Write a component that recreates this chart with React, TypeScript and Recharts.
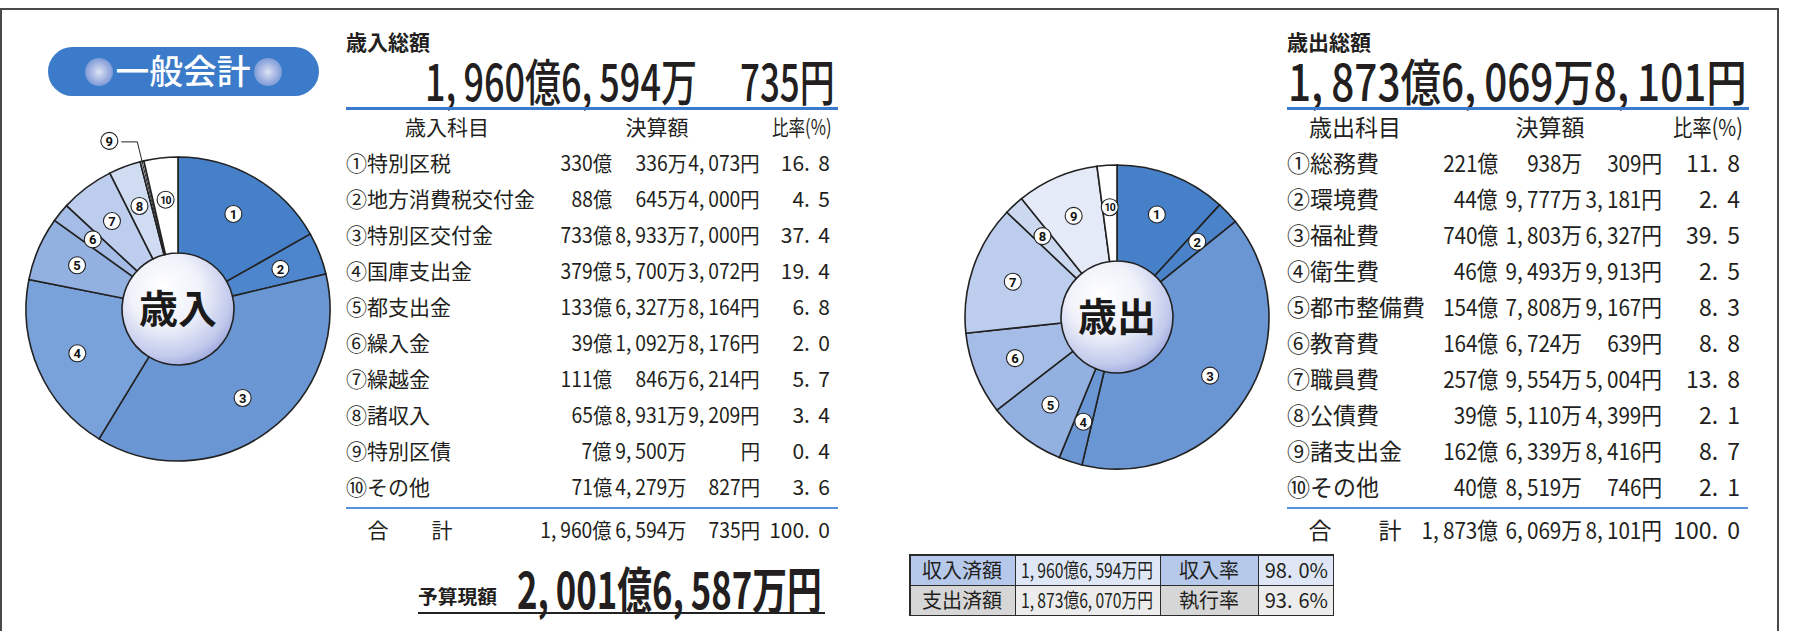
import { useLayoutEffect, useRef, useState } from "react";
import type { ReactNode } from "react";
import { Cell, Pie, PieChart } from "recharts";

const FONT = '"Noto Sans CJK JP", "Noto Sans", sans-serif';
const INK = "#231f20";

const circled = ["①", "②", "③", "④", "⑤", "⑥", "⑦", "⑧", "⑨", "⑩"];

// 歳入
const revenueItems = [
  "特別区税",
  "地方消費税交付金",
  "特別区交付金",
  "国庫支出金",
  "都支出金",
  "繰入金",
  "繰越金",
  "諸収入",
  "特別区債",
  "その他"
];
const revenueAmounts = [
  ["330億", "336万", "4,073円"],
  ["88億", "645万", "4,000円"],
  ["733億", "8,933万", "7,000円"],
  ["379億", "5,700万", "3,072円"],
  ["133億", "6,327万", "8,164円"],
  ["39億", "1,092万", "8,176円"],
  ["111億", "846万", "6,214円"],
  ["65億", "8,931万", "9,209円"],
  ["7億", "9,500万", "円"],
  ["71億", "4,279万", "827円"]
];
const revenueShare = [16.8, 4.5, 37.4, 19.4, 6.8, 2.0, 5.7, 3.4, 0.4, 3.6];
const revenueTotal = ["1,960億", "6,594万", "735円"];

// 歳出
const expenseItems = [
  "総務費",
  "環境費",
  "福祉費",
  "衛生費",
  "都市整備費",
  "教育費",
  "職員費",
  "公債費",
  "諸支出金",
  "その他"
];
const expenseAmounts = [
  ["221億", "938万", "309円"],
  ["44億", "9,777万", "3,181円"],
  ["740億", "1,803万", "6,327円"],
  ["46億", "9,493万", "9,913円"],
  ["154億", "7,808万", "9,167円"],
  ["164億", "6,724万", "639円"],
  ["257億", "9,554万", "5,004円"],
  ["39億", "5,110万", "4,399円"],
  ["162億", "6,339万", "8,416円"],
  ["40億", "8,519万", "746円"]
];
const expenseShare = [11.8, 2.4, 39.5, 2.5, 8.3, 8.8, 13.8, 2.1, 8.7, 2.1];
const expenseTotal = ["1,873億", "6,069万", "8,101円"];

// 収入・支出の状況
const statusLabels = ["収入済額", "支出済額"];
const statusAmounts = ["1,960億6,594万円", "1,873億6,070万円"];
const rateLabels = ["収入率", "執行率"];
const rateValues = [98.0, 93.6];

const revenueColors = [
  "#4580c8", "#4d86cc", "#6a97d4", "#7aa2da", "#93b1e0",
  "#a5bde6", "#bccdee", "#d0dcf2", "#e8eef9", "#ffffff"
];
const expenseColors = [
  "#4580c8", "#4a83ca", "#6a97d4", "#6a97d4", "#93b1e0",
  "#a5bde6", "#bccdee", "#ccd8f0", "#e4eaf8", "#ffffff"
];

// put a little air after commas and points, like the printed figures
function spaced(s: string, gap = 0.2) {
  return s.split(/([,.])/).map((part, i) =>
    part === "," || part === "." ? (
      <span key={i} style={{ marginRight: `${gap}em` }}>{part}</span>
    ) : (
      <span key={i}>{part}</span>
    )
  );
}

type TxtProps = {
  x: number;
  y: number;
  size: number;
  anchor?: "start" | "middle" | "end";
  weight?: number;
  w?: number;
  sx?: number;
  color?: string;
  children: ReactNode;
};

function Txt({ x, y, size, anchor = "start", weight = 400, w, sx = 1, color = INK, children }: TxtProps) {
  const ref = useRef<HTMLSpanElement>(null);
  const [scale, setScale] = useState(sx);

  useLayoutEffect(() => {
    if (!w) return;
    const measure = () => {
      const el = ref.current;
      if (el && el.offsetWidth) setScale(w / el.offsetWidth);
    };
    measure();
    document.fonts?.ready.then(measure);
  }, [w]);

  const origin = anchor === "start" ? "left center" : anchor === "end" ? "right center" : "center center";
  const transform = anchor === "middle" ? `translateX(-50%) scaleX(${scale})` : `scaleX(${scale})`;
  const side = anchor === "end" ? { right: 0 } : { left: 0 };

  return (
    <div style={{ position: "absolute", left: x, top: y - size * 0.55, width: 0, height: 0 }}>
      <span
        ref={ref}
        style={{
          position: "absolute",
          top: 0,
          ...side,
          fontFamily: FONT,
          fontSize: size,
          lineHeight: `${size}px`,
          fontWeight: weight,
          whiteSpace: "nowrap",
          color,
          transform,
          transformOrigin: origin
        }}
      >
        {children}
      </span>
    </div>
  );
}

function Badge({ x, y, n }: { x: number; y: number; n: number }) {
  return (
    <g>
      <circle cx={x} cy={y} r={8.5} fill="#fff" stroke="#222" strokeWidth={1.1} />
      <text
        x={x}
        y={y + 0.5}
        textAnchor="middle"
        dominantBaseline="central"
        fontFamily="Roboto, sans-serif"
        fontWeight={700}
        fontSize={n > 9 ? 10.5 : 13}
        letterSpacing={n > 9 ? -0.8 : 0}
        fill="#111"
      >
        {n}
      </text>
    </g>
  );
}

type DonutProps = {
  values: number[];
  colors: string[];
  left: number;
  top: number;
  width: number;
  height: number;
  cx: number;
  cy: number;
  title: string;
  outside?: number[];
};

function Donut({ values, colors, left, top, width, height, cx, cy, title, outside = [] }: DonutProps) {
  const data = values.map((v, i) => ({ name: circled[i], value: v }));

  const renderLabel = (p: any) => {
    const a = (-p.midAngle * Math.PI) / 180;
    const at = (r: number) => [p.cx + r * Math.cos(a), p.cy + r * Math.sin(a)];
    if (outside.includes(p.index)) {
      const [x0, y0] = at(p.innerRadius + 1);
      const [x1, y1] = at(p.outerRadius + 20);
      const x2 = x1 - 16;
      return (
        <g>
          <polyline
            points={`${x0},${y0} ${x1},${y1} ${x2},${y1}`}
            fill="none"
            stroke="#222"
            strokeWidth={1}
          />
          <Badge x={x2 - 12} y={y1 - 1} n={p.index + 1} />
        </g>
      );
    }
    const [x, y] = at((p.innerRadius + p.outerRadius) / 2 + 6);
    return <Badge x={x} y={y} n={p.index + 1} />;
  };

  return (
    <div style={{ position: "absolute", left, top, width, height }}>
      <PieChart width={width} height={height} margin={{ top: 0, right: 0, bottom: 0, left: 0 }}>
        <Pie
          data={[{ name: title, value: 1 }]}
          dataKey="value"
          cx={cx}
          cy={cy}
          innerRadius={0}
          outerRadius={56}
          fill="url(#sphere)"
          stroke="none"
          isAnimationActive={false}
        />
        <Pie
          data={data}
          dataKey="value"
          cx={cx}
          cy={cy}
          startAngle={90}
          endAngle={-270}
          innerRadius={56}
          outerRadius={152}
          stroke="#222"
          strokeWidth={1.6}
          label={renderLabel}
          labelLine={false}
          isAnimationActive={false}
        >
          {data.map((d, i) => (
            <Cell key={d.name} fill={colors[i]} />
          ))}
        </Pie>
      </PieChart>
      <Txt x={cx} y={cy - 1} size={39} anchor="middle" weight={700} color="#1a1a1a">
        {title}
      </Txt>
    </div>
  );
}

type TableCols = {
  label: number;
  oku: number;
  man: number;
  yen: number;
  pct: number;
  gou: number;
  kei: number;
  size: number;
  sx: number;
  gap: number;
  pgap: number;
};

function Table({
  cols,
  items,
  amounts,
  share,
  total
}: {
  cols: TableCols;
  items: string[];
  amounts: string[][];
  share: number[];
  total: string[];
}) {
  const { size, sx, gap, pgap } = cols;
  const amountCells = (parts: string[], y: number) => (
    <>
      <Txt x={cols.oku} y={y} size={size} anchor="end" sx={sx}>{spaced(parts[0], gap)}</Txt>
      <Txt x={cols.man} y={y} size={size} anchor="end" sx={sx}>{spaced(parts[1], gap)}</Txt>
      <Txt x={cols.yen} y={y} size={size} anchor="end" sx={sx}>{spaced(parts[2], gap)}</Txt>
    </>
  );
  return (
    <>
      {items.map((item, i) => {
        const y = 164 + i * 36;
        return (
          <div key={item}>
            <Txt x={cols.label} y={y} size={size}>
              {circled[i]}
              {item}
            </Txt>
            {amountCells(amounts[i], y)}
            <Txt x={cols.pct} y={y} size={size} anchor="end">{spaced(share[i].toFixed(1), pgap)}</Txt>
          </div>
        );
      })}
      <Txt x={cols.gou} y={531} size={size} anchor="middle">合</Txt>
      <Txt x={cols.kei} y={531} size={size} anchor="middle">計</Txt>
      {amountCells(total, 531)}
      <Txt x={cols.pct} y={531} size={size} anchor="end">{spaced((100).toFixed(1), pgap)}</Txt>
    </>
  );
}

const LEFT: TableCols = {
  label: 346, oku: 612, man: 687, yen: 760, pct: 830, gou: 378, kei: 442,
  size: 21, sx: 0.92, gap: 0.2, pgap: 0.4
};
const RIGHT: TableCols = {
  label: 1287, oku: 1498, man: 1582, yen: 1662, pct: 1740, gou: 1320, kei: 1390,
  size: 23, sx: 0.9, gap: 0.2, pgap: 0.4
};

function Line({ x1, x2, y, h, color }: { x1: number; x2: number; y: number; h: number; color: string }) {
  return <div style={{ position: "absolute", left: x1, top: y - h / 2, width: x2 - x1, height: h, background: color }} />;
}

const orb = {
  position: "absolute" as const,
  width: 28,
  height: 28,
  borderRadius: "50%",
  background:
    "radial-gradient(circle, #dfe4f4 0%, #b5c2e8 30%, #8ea6dc 60%, rgba(59,123,201,0) 100%)"
};

export default function App() {
  const rowTop = [555, 585];
  const colEdges = [910, 1015, 1160, 1258, 1333];
  const headBg = ["#b6c9ea", "#d6d6d6"];
  const cellBg = ["#dfe7f6", "#ececec"];

  return (
    <div
      style={{
        position: "absolute",
        left: 0,
        top: 0,
        width: 1814,
        height: 631,
        background: "#fff",
        overflow: "hidden",
        fontFamily: FONT
      }}
    >
      <svg width={0} height={0} style={{ position: "absolute" }}>
        <defs>
          <radialGradient id="sphere" cx="0.42" cy="0.38" r="0.7" fx="0.36" fy="0.3">
            <stop offset="0" stopColor="#ffffff" />
            <stop offset="0.45" stopColor="#f0f2fa" />
            <stop offset="0.8" stopColor="#c2caec" />
            <stop offset="1" stopColor="#8c9ad7" />
          </radialGradient>
        </defs>
      </svg>

      {/* frame */}
      <Line x1={0} x2={1779} y={9} h={2} color="#4a4a4a" />
      <div style={{ position: "absolute", left: 0, top: 8, width: 2, height: 623, background: "#4a4a4a" }} />
      <div style={{ position: "absolute", left: 1777, top: 8, width: 2, height: 623, background: "#4a4a4a" }} />

      {/* 一般会計 pill */}
      <div
        style={{
          position: "absolute",
          left: 48,
          top: 47,
          width: 271,
          height: 49,
          borderRadius: 25,
          background: "#3b7bc9"
        }}
      />
      <div style={{ ...orb, left: 85, top: 58 }} />
      <div style={{ ...orb, left: 254, top: 58 }} />
      <Txt x={183} y={72} size={34} anchor="middle" weight={500} w={135} color="#ffffff">
        一般会計
      </Txt>

      {/* pies */}
      <Donut
        values={revenueShare}
        colors={revenueColors}
        left={0}
        top={100}
        width={360}
        height={420}
        cx={178}
        cy={209}
        title="歳入"
        outside={[8]}
      />
      <Donut
        values={expenseShare}
        colors={expenseColors}
        left={930}
        top={100}
        width={380}
        height={420}
        cx={187}
        cy={217}
        title="歳出"
      />

      {/* 歳入 side */}
      <Txt x={346} y={43} size={21} weight={700} w={84}>歳入総額</Txt>
      <Txt x={425} y={81} size={50} weight={500} w={272}>{spaced("1,960億6,594万")}</Txt>
      <Txt x={740} y={81} size={50} weight={500} w={95}>735円</Txt>
      <Line x1={346} x2={838} y={108} h={3} color="#3a7bd0" />
      <Txt x={447} y={128} size={21} anchor="middle">歳入科目</Txt>
      <Txt x={657} y={128} size={21} anchor="middle">決算額</Txt>
      <Txt x={832} y={128} size={21} anchor="end" w={60}>比率(%)</Txt>
      <Table cols={LEFT} items={revenueItems} amounts={revenueAmounts} share={revenueShare} total={revenueTotal} />
      <Line x1={346} x2={838} y={508} h={2} color="#5a92da" />

      {/* 予算現額 */}
      <Txt x={418} y={596} size={19} weight={700} w={79}>予算現額</Txt>
      <Txt x={517} y={589} size={50} weight={700} w={305}>{spaced("2,001億6,587万円")}</Txt>
      <Line x1={418} x2={825} y={613} h={2.5} color="#222" />

      {/* 歳出 side */}
      <Txt x={1287} y={43} size={21} weight={700} w={84}>歳出総額</Txt>
      <Txt x={1288} y={81} size={50} weight={500} w={459}>{spaced("1,873億6,069万8,101円")}</Txt>
      <Line x1={1287} x2={1749} y={108} h={3} color="#3a7bd0" />
      <Txt x={1355} y={128} size={23} anchor="middle">歳出科目</Txt>
      <Txt x={1550} y={128} size={23} anchor="middle">決算額</Txt>
      <Txt x={1743} y={128} size={23} anchor="end" w={70}>比率(%)</Txt>
      <Table cols={RIGHT} items={expenseItems} amounts={expenseAmounts} share={expenseShare} total={expenseTotal} />
      <Line x1={1287} x2={1748} y={508} h={2} color="#5a92da" />

      {/* status table */}
      <div
        style={{
          position: "absolute",
          left: colEdges[0] - 1,
          top: rowTop[0] - 1,
          width: colEdges[4] - colEdges[0] + 2,
          height: 62,
          background: "#2b2b2b"
        }}
      />
      {rowTop.map((top, r) =>
        colEdges.slice(0, 4).map((x, c) => (
          <div
            key={`${r}-${c}`}
            style={{
              position: "absolute",
              left: x + 1,
              top: top + 1,
              width: colEdges[c + 1] - x - 1.5,
              height: 28.5,
              background: c % 2 === 0 ? headBg[r] : cellBg[r]
            }}
          />
        ))
      )}
      {rowTop.map((top, r) => (
        <div key={r}>
          <Txt x={962} y={top + 16} size={20} anchor="middle">{statusLabels[r]}</Txt>
          <Txt x={1087} y={top + 16} size={20} anchor="middle" w={132}>{spaced(statusAmounts[r])}</Txt>
          <Txt x={1209} y={top + 16} size={20} anchor="middle">{rateLabels[r]}</Txt>
          <Txt x={1328} y={top + 16} size={20} anchor="end">{spaced(rateValues[r].toFixed(1) + "%", 0.3)}</Txt>
        </div>
      ))}
    </div>
  );
}
